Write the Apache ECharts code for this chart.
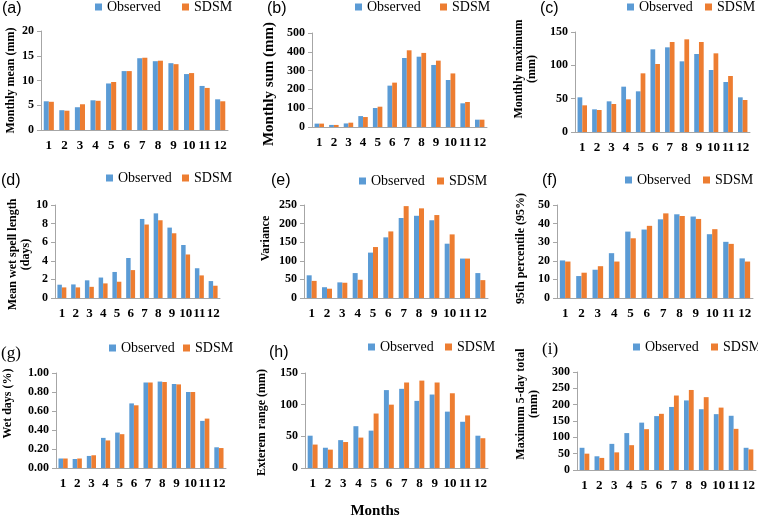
<!DOCTYPE html>
<html><head><meta charset="utf-8">
<script src="https://cdn.jsdelivr.net/npm/echarts@6/dist/echarts.min.js"></script>
<style>html,body{margin:0;padding:0;background:#fff}#c{width:758px;height:519px}</style>
</head><body><div id="c"></div>
<script>
// ---- data ----
const months = ['1','2','3','4','5','6','7','8','9','10','11','12'];
const seriesNames = ['Observed', 'SDSM'];

const meanObs  = [5.8, 4.0, 4.6, 6.0, 9.4, 11.9, 14.5, 13.9, 13.5, 11.3, 8.9, 6.2];
const meanSdsm = [5.7, 3.9, 5.2, 5.9, 9.7, 11.9, 14.6, 14.0, 13.3, 11.5, 8.5, 5.8];

const sumObs  = [18, 11, 19, 58, 101, 220, 367, 374, 330, 250, 126, 39];
const sumSdsm = [18, 11, 23, 53, 108, 236, 408, 394, 353, 285, 133, 39];

const maxObs  = [52, 34, 46, 68, 61, 124, 127, 106, 117, 93, 75, 52];
const maxSdsm = [40, 33, 42, 49, 88, 102, 135, 139, 135, 118, 84, 48];

const spellObs  = [1.43, 1.46, 1.9, 2.2, 2.8, 4.3, 8.5, 9.1, 7.57, 5.7, 3.2, 1.82];
const spellSdsm = [1.14, 1.14, 1.2, 1.57, 1.75, 3.0, 7.9, 8.36, 6.96, 4.68, 2.43, 1.32];

const varObs  = [61, 29, 42, 67, 122, 163, 215, 221, 209, 146, 106, 67];
const varSdsm = [46, 25, 41, 49, 137, 179, 247, 241, 223, 171, 106, 48];

const p95Obs  = [20.2, 11.8, 15.2, 24.1, 35.7, 36.8, 42.3, 45.0, 43.8, 34.3, 30.2, 21.3];
const p95Sdsm = [19.6, 13.6, 17.1, 19.6, 32.1, 38.8, 45.5, 44.1, 42.5, 37.0, 29.1, 19.6];

const wetObs  = [0.10, 0.095, 0.127, 0.317, 0.373, 0.68, 0.90, 0.91, 0.884, 0.80, 0.496, 0.218];
const wetSdsm = [0.10, 0.10, 0.134, 0.29, 0.356, 0.66, 0.90, 0.905, 0.88, 0.80, 0.52, 0.21];

const rangeObs  = [51, 32, 44, 66, 59, 123, 125, 106, 116, 89, 73, 51];
const rangeSdsm = [37, 29, 41, 48, 86, 100, 135, 138, 135, 118, 83, 47];

const fiveObs  = [68, 42, 80, 113, 145, 165, 193, 213, 186, 171, 166, 68];
const fiveSdsm = [50, 37, 54, 76, 125, 172, 228, 245, 223, 191, 126, 63];

const panelLabels = ['(a)','(b)','(c)','(d)','(e)','(f)','(g)','(h)','(i)'];
const yNames = ['Monthly mean (mm)', 'Monthly sum (mm)', 'Monthly maximum\n(mm)',
  'Mean wet spell length\n(days)', 'Variance', '95th percentile (95%)',
  'Wet days (%)', 'Exterem range (mm)', 'Maximum 5-day total\n(mm)'];
const yMax = [20, 500, 150, 10, 250, 50, 1, 150, 300];
const yStep = [5, 100, 50, 2, 50, 10, 0.2, 50, 50];
const xTitle = 'Months';
const panelData = [[meanObs, meanSdsm], [sumObs, sumSdsm], [maxObs, maxSdsm],
  [spellObs, spellSdsm], [varObs, varSdsm], [p95Obs, p95Sdsm],
  [wetObs, wetSdsm], [rangeObs, rangeSdsm], [fiveObs, fiveSdsm]];

// ---- layout (pixels) ----
const grids = [
  {left: 41, top: 31, width: 187, height: 99},
  {left: 312, top: 33, width: 175, height: 94},
  {left: 575, top: 32, width: 175, height: 100},
  {left: 55, top: 205, width: 165, height: 93},
  {left: 304, top: 205, width: 184, height: 93},
  {left: 557, top: 205, width: 196, height: 93},
  {left: 50, top: 373, width: 176, height: 95},
  {left: 305, top: 373, width: 183, height: 95},
  {left: 577, top: 372, width: 179, height: 98}
];
const nameGaps = [24, 35, 37, 23, 32, 30, 42, 37, 37];
const nameSizes = [12, 15, 12, 12, 12, 12, 12, 12, 12];
const nameShift = [0, -4, 13, -3, 13, 3, 17, -2, 17]; // + = up
const titlePos = [[2, 1], [267, 1], [540, 1], [1, 173], [271, 173], [542, 173], [1, 345], [269, 345], [542, 341]];
const titleSerif = [false, false, false, false, false, false, true, false, true];
const legendObs = [[95, 8], [355, 8], [627, 8], [106, 179], [359, 182], [625, 181], [109, 349], [368, 348], [633, 348]];
const legendSdsm = [[182, 8], [440, 8], [705, 8], [182, 179], [437, 182], [703, 181], [183, 349], [445, 348], [711, 348]];

const BLUE = '#5B9BD5', ORANGE = '#ED7D31', AXIS = '#A6A6A6';
const SERIF = '"Liberation Serif","Times New Roman",serif';

const option = {
  backgroundColor: '#fff',
  animation: false,
  title: [], legend: [], grid: [], xAxis: [], yAxis: [], series: []
};

grids.forEach((g, i) => {
  option.grid.push(Object.assign({containLabel: false}, g));
  option.title.push({
    text: panelLabels[i], left: titlePos[i][0], top: titlePos[i][1], padding: 0,
    textStyle: {fontFamily: titleSerif[i] ? SERIF : '"Liberation Sans",Arial,sans-serif',
      fontWeight: 'normal', fontSize: titleSerif[i] ? 17 : 16, color: '#000'}
  });
  [legendObs, legendSdsm].forEach((posArr, k) => {
    const pos = posArr[i];
    option.legend.push({
      data: [seriesNames[k]], left: pos[0], top: pos[1] - 8, padding: 0,
      icon: 'rect', itemWidth: 7, itemHeight: 7, itemGap: 0, selectedMode: false,
      textStyle: {fontFamily: SERIF, fontSize: 14, color: '#000'}
    });
  });
  option.xAxis.push({
    type: 'category', gridIndex: i, data: months,
    axisLine: {lineStyle: {color: AXIS}}, axisTick: {show: false},
    axisLabel: {interval: 0, margin: 9, fontFamily: SERIF, fontWeight: 'bold',
      fontSize: 13, color: '#000'}
  });
  const sh = nameShift[i];
  option.yAxis.push({
    type: 'value', gridIndex: i, min: 0, max: yMax[i], interval: yStep[i],
    name: yNames[i], nameLocation: 'middle', nameGap: nameGaps[i], nameRotate: 90,
    nameTextStyle: {fontFamily: SERIF, fontWeight: 'bold', fontSize: nameSizes[i], color: '#000',
      lineHeight: nameSizes[i] + 1,
      padding: [0, sh < 0 ? -2 * sh : 0, 0, sh > 0 ? 2 * sh : 0]},
    axisLine: {show: true, lineStyle: {color: AXIS}},
    axisTick: {show: true, length: 4, lineStyle: {color: AXIS}},
    splitLine: {show: false},
    axisLabel: {margin: 7, fontFamily: SERIF, fontWeight: 'bold', fontSize: 12, color: '#000',
      formatter: i === 6 ? (v => v.toFixed(2)) : (v => String(v))}
  });
  panelData[i].forEach((arr, k) => {
    option.series.push({
      type: 'bar', name: seriesNames[k], xAxisIndex: i, yAxisIndex: i, data: arr,
      itemStyle: {color: k === 0 ? BLUE : ORANGE},
      barGap: '0%', barCategoryGap: '35%'
    });
  });
});

option.title.push({
  text: xTitle, left: 375, top: 504, textAlign: 'center', padding: 0,
  textStyle: {fontFamily: SERIF, fontWeight: 'bold', fontSize: 15, color: '#000'}
});

const chart = echarts.init(document.getElementById('c'), null, {renderer: 'canvas'});
chart.setOption(option);
</script></body></html>
